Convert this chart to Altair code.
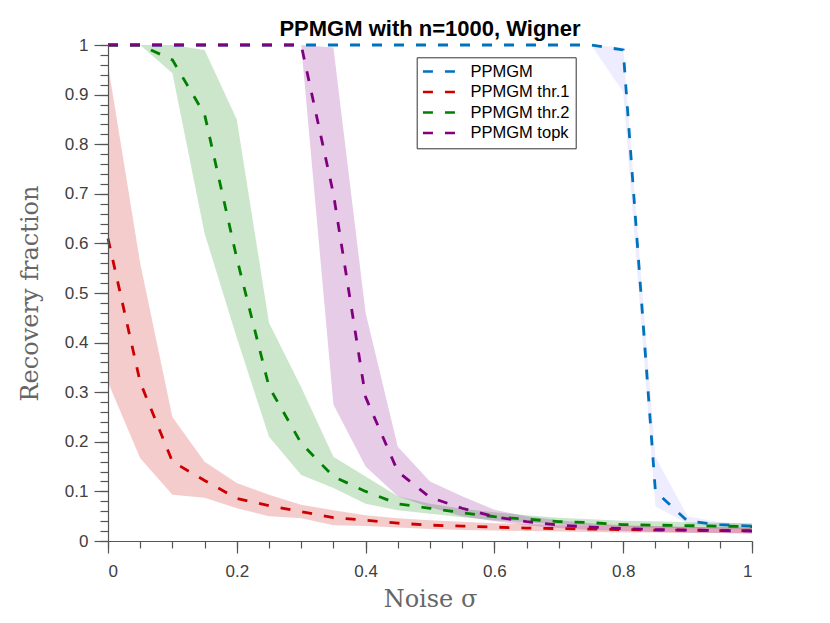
import altair as alt
import pandas as pd

# ---------------- data ----------------
X = [0.00, 0.05, 0.10, 0.15, 0.20, 0.25, 0.30, 0.35, 0.40, 0.45, 0.50,
     0.55, 0.60, 0.65, 0.70, 0.75, 0.80, 0.85, 0.90, 0.95, 1.00]

SERIES = ["PPMGM", "PPMGM thr.1", "PPMGM thr.2", "PPMGM topk"]

ppmgm_mean = [1.0, 1.0, 1.0, 1.0, 1.0, 1.0, 1.0, 1.0, 1.0, 1.0, 1.0,
              1.0, 1.0, 1.0, 1.0, 1.0, 0.99, 0.10, 0.040, 0.033, 0.030]
ppmgm_lo = [1.0, 1.0, 1.0, 1.0, 1.0, 1.0, 1.0, 1.0, 1.0, 1.0, 1.0,
            1.0, 1.0, 1.0, 1.0, 1.0, 0.905, 0.07, 0.035, 0.028, 0.025]
ppmgm_hi = [1.0, 1.0, 1.0, 1.0, 1.0, 1.0, 1.0, 1.0, 1.0, 1.0, 1.0,
            1.0, 1.0, 1.0, 1.0, 1.0, 0.995, 0.17, 0.050, 0.038, 0.035]

thr1_mean = [0.61, 0.32, 0.16, 0.122, 0.086, 0.071, 0.059, 0.047, 0.042, 0.036, 0.032,
             0.030, 0.028, 0.026, 0.025, 0.024, 0.023, 0.022, 0.022, 0.021, 0.021]
thr1_lo = [0.32, 0.167, 0.093, 0.087, 0.066, 0.050, 0.046, 0.032, 0.030, 0.027, 0.024,
           0.022, 0.021, 0.020, 0.019, 0.018, 0.017, 0.017, 0.016, 0.016, 0.015]
thr1_hi = [0.96, 0.56, 0.25, 0.16, 0.117, 0.093, 0.073, 0.062, 0.052, 0.046, 0.042,
           0.039, 0.036, 0.034, 0.032, 0.031, 0.030, 0.029, 0.028, 0.028, 0.027]

thr2_mean = [1.0, 1.0, 0.97, 0.86, 0.57, 0.311, 0.197, 0.13, 0.10, 0.075, 0.066,
             0.057, 0.049, 0.044, 0.039, 0.037, 0.033, 0.032, 0.031, 0.030, 0.029]
thr2_lo = [1.0, 1.0, 0.943, 0.62, 0.41, 0.21, 0.133, 0.107, 0.075, 0.062, 0.055,
           0.048, 0.042, 0.038, 0.034, 0.031, 0.029, 0.027, 0.026, 0.025, 0.024]
thr2_hi = [1.0, 1.0, 1.0, 0.99, 0.85, 0.44, 0.31, 0.17, 0.13, 0.09, 0.075,
           0.065, 0.058, 0.052, 0.047, 0.044, 0.041, 0.040, 0.038, 0.037, 0.036]

topk_mean = [1.0, 1.0, 1.0, 1.0, 1.0, 1.0, 1.0, 0.70, 0.29, 0.14, 0.088,
             0.066, 0.049, 0.039, 0.032, 0.028, 0.025, 0.023, 0.022, 0.021, 0.020]
topk_lo = [1.0, 1.0, 1.0, 1.0, 1.0, 1.0, 1.0, 0.275, 0.15, 0.09, 0.068,
           0.050, 0.040, 0.032, 0.026, 0.022, 0.020, 0.018, 0.017, 0.016, 0.015]
topk_hi = [1.0, 1.0, 1.0, 1.0, 1.0, 1.0, 1.0, 0.995, 0.46, 0.19, 0.12,
           0.090, 0.063, 0.050, 0.042, 0.036, 0.032, 0.030, 0.028, 0.027, 0.026]

LINE_COLORS = ["#0072BD", "#CC0000", "#008000", "#800080"]
BAND_COLORS = ["rgba(0,0,255,0.07)", "rgba(204,0,0,0.2)",
               "rgba(0,128,0,0.2)", "rgba(128,0,128,0.2)"]

X_MAJOR = [0, 0.2, 0.4, 0.6, 0.8, 1]
Y_MAJOR = [0, 0.1, 0.2, 0.3, 0.4, 0.5, 0.6, 0.7, 0.8, 0.9, 1]
X_MINOR = [0, 0.05, 0.1, 0.15, 0.2, 0.25, 0.3, 0.35, 0.4, 0.45, 0.5,
           0.55, 0.6, 0.65, 0.7, 0.75, 0.8, 0.85, 0.9, 0.95, 1]
Y_MINOR = [0, 0.02, 0.04, 0.06, 0.08, 0.1, 0.12, 0.14, 0.16, 0.18, 0.2,
           0.22, 0.24, 0.26, 0.28, 0.3, 0.32, 0.34, 0.36, 0.38, 0.4,
           0.42, 0.44, 0.46, 0.48, 0.5, 0.52, 0.54, 0.56, 0.58, 0.6,
           0.62, 0.64, 0.66, 0.68, 0.7, 0.72, 0.74, 0.76, 0.78, 0.8,
           0.82, 0.84, 0.86, 0.88, 0.9, 0.92, 0.94, 0.96, 0.98, 1]

# ---------------- table ----------------
means = [ppmgm_mean, thr1_mean, thr2_mean, topk_mean]
los = [ppmgm_lo, thr1_lo, thr2_lo, topk_lo]
his = [ppmgm_hi, thr1_hi, thr2_hi, topk_hi]
rows = []
for k, name in enumerate(SERIES):
    for i, xv in enumerate(X):
        rows.append({"x": xv, "series": name, "band": name, "order": k,
                     "mean": means[k][i], "lo": los[k][i], "hi": his[k][i]})
df = pd.DataFrame(rows)

AXIS_COLOR = "#555555"
LABEL_FONT = "Liberation Sans"
TITLE_FONT = "DejaVu Serif"

xscale = alt.Scale(domain=[0, 1], nice=False, zero=False)
yscale = alt.Scale(domain=[0, 1], nice=False, zero=False)

x_major = alt.Axis(values=X_MAJOR, format="~g", title="Noise σ", orient="bottom",
                   grid=False, tickSize=12, tickColor=AXIS_COLOR, tickWidth=1.2,
                   domainColor=AXIS_COLOR, domainWidth=1.2, labelPadding=10,
                   labelFont=LABEL_FONT, labelFontSize=17, labelColor="#404040",
                   titleFont=TITLE_FONT, titleFontSize=24, titleFontWeight="normal",
                   titleColor="#666666", titlePadding=8, zindex=1)
y_major = alt.Axis(values=Y_MAJOR, format="~g", title="Recovery fraction", orient="left",
                   grid=False, tickSize=14, tickColor=AXIS_COLOR, tickWidth=1.2,
                   domainColor=AXIS_COLOR, domainWidth=1.2, labelPadding=6,
                   labelFont=LABEL_FONT, labelFontSize=17, labelColor="#404040",
                   titleFont=TITLE_FONT, titleFontSize=24, titleFontWeight="normal",
                   titleColor="#666666", titlePadding=22, zindex=1)
x_minor = alt.Axis(values=X_MINOR, orient="bottom", labels=False, title=None, domain=False,
                   grid=False, tickSize=7, tickColor=AXIS_COLOR, tickWidth=1.2, zindex=1)
y_minor = alt.Axis(values=Y_MINOR, orient="left", labels=False, title=None, domain=False,
                   grid=False, tickSize=8, tickColor=AXIS_COLOR, tickWidth=1.2, zindex=1)

bands = alt.Chart(df).mark_area(interpolate="linear").encode(
    x=alt.X("x:Q", scale=xscale, axis=x_major),
    y=alt.Y("lo:Q", scale=yscale, axis=y_major),
    y2="hi:Q",
    fill=alt.Fill("band:N", scale=alt.Scale(domain=SERIES, range=BAND_COLORS), legend=None),
    order=alt.Order("order:Q"),
)

lines = alt.Chart(df).mark_line(strokeWidth=2.8, strokeDash=[10, 12]).encode(
    x=alt.X("x:Q", scale=xscale, axis=None),
    y=alt.Y("mean:Q", scale=yscale, axis=None),
    stroke=alt.Stroke("series:N", scale=alt.Scale(domain=SERIES, range=LINE_COLORS),
                      legend=alt.Legend(title=None, orient="none", legendX=308.7, legendY=12.3,
                                        symbolType="M-2.5,0L2.5,0", symbolSize=169,
                                        symbolStrokeWidth=2.6, symbolDash=[10, 12],
                                        symbolOffset=8.25, labelFont=LABEL_FONT,
                                        labelFontSize=16.5, labelColor="black",
                                        labelOffset=23, padding=6, rowPadding=3.5,
                                        strokeColor="#333333", fillColor="white")),
)

minor = alt.Chart(df).mark_point(opacity=0).encode(
    x=alt.X("x:Q", scale=xscale, axis=x_minor),
    y=alt.Y("mean:Q", scale=yscale, axis=y_minor),
)

chart = alt.layer(bands, lines, minor).resolve_axis(
    x="independent", y="independent"
).resolve_scale(
    fill="independent", stroke="independent"
).properties(
    width=644, height=496,
    title=alt.TitleParams("PPMGM with n=1000, Wigner", font=LABEL_FONT, fontSize=22,
                          fontWeight="bold", color="black", anchor="middle", offset=6, dy=11),
    autosize=alt.AutoSizeParams(type="none"),
    padding={"left": 100, "top": 37, "right": 62, "bottom": 76},
).configure_view(stroke=None)

chart.save("out.html", embed_options={"renderer": "svg", "actions": False})
